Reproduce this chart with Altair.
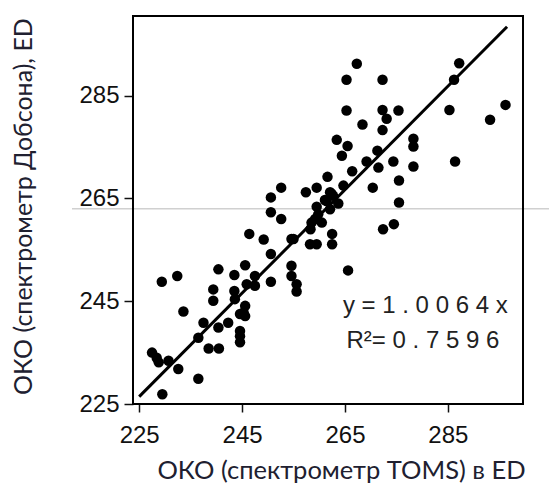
import altair as alt
import pandas as pd

# Scatter values (TOMS, Dobson)
toms = [267.3, 265.3, 272.3, 287.2, 286.2, 265.3, 272.3, 275.4, 273.1, 268.4, 272.3,
        285.3, 293.2, 296.2, 263.4, 265.5, 278.3, 278.3, 264.4, 271.3, 269.2, 274.4,
        286.4, 271.5, 278.3, 266.4, 261.6, 275.5, 270.4, 264.7, 259.5, 257.4, 275.5,
        262.1, 262.7, 261.4, 263.7, 259.5, 262.1, 259.8, 258.5, 260.5, 272.4, 274.5,
        258.2, 259.5, 262.5, 262.5, 252.6, 250.6, 250.6, 252.6, 246.4, 249.2, 254.6,
        250.6, 265.6, 254.6, 254.6, 255.6, 255.6, 250.6, 247.5, 247.5, 245.6, 243.5,
        245.9, 240.4, 239.4, 239.4, 243.5, 243.6, 245.6, 245.3, 244.6, 245.6, 237.5,
        240.4, 242.3, 244.6, 244.6, 244.6, 236.5, 238.5, 240.5, 229.4, 232.4, 233.6,
        227.5, 228.4, 228.8, 230.7, 232.6, 236.5, 229.5, 255.0, 259.2, 258.3, 261.1,
        262.4]
dobson = [291.2, 288.1, 288.1, 291.3, 288.1, 282.1, 282.2, 282.1, 280.5, 279.4, 278.3,
          282.2, 280.3, 283.2, 276.4, 275.2, 276.6, 275.1, 273.3, 274.3, 272.2, 272.2,
          272.2, 271.0, 271.2, 270.3, 269.2, 268.5, 267.1, 267.5, 267.1, 266.2, 264.2,
          266.2, 265.5, 264.5, 264.0, 263.4, 262.9, 261.9, 260.3, 260.3, 259.0, 260.0,
          256.1, 256.1, 258.1, 256.1, 267.1, 265.2, 262.3, 261.0, 258.1, 257.0, 257.1,
          254.2, 251.0, 251.9, 249.9, 248.3, 246.9, 248.8, 249.9, 248.0, 252.0, 250.1,
          248.3, 251.2, 247.3, 245.1, 247.0, 245.4, 244.1, 242.8, 242.5, 242.1, 240.8,
          239.9, 240.8, 239.2, 238.2, 237.0, 237.9, 235.8, 235.8, 248.8, 249.9, 243.0,
          235.0, 234.0, 233.1, 233.4, 231.8, 229.9, 226.9, 257.1, 261.0, 259.0, 264.7,
          265.9]

slope = 1.0064
line_x = [225.0, 296.5]
ticks = [225, 245, 265, 285]
eq_lines = ["y = 1 . 0 0 6 4 x", "R²= 0 . 7 5 9 6"]
eq_x = [264.6, 265.3]
eq_y = [242.7, 235.9]

pts = pd.DataFrame({"toms": toms, "dobson": dobson})
ln = pd.DataFrame({"toms": line_x, "dobson": [slope * v for v in line_x]})
eq = pd.DataFrame({"t": eq_lines, "toms": eq_x, "dobson": eq_y})

tick_font = "Liberation Sans Narrow, Arial Narrow, Liberation Sans, Arial"
title_font = "Lato, Open Sans, sans-serif"

W, H = 390, 388
xs = alt.Scale(domain=[223.8, 299.6], nice=False, zero=False)
ys = alt.Scale(domain=[225, 300.5], nice=False, zero=False)

xaxis = alt.Axis(values=ticks, title="ОКО (спектрометр TOMS) в ED", grid=False,
                 domain=False, tickColor="#111", tickSize=8, tickWidth=1.5,
                 labelFont=tick_font, labelFontSize=24, labelColor="#111",
                 labelPadding=11, titleFont=title_font, titleFontSize=25.5,
                 titleFontWeight="normal", titleColor="#202030",
                 titleX=208, titleY=66, titleBaseline="middle", titleAnchor="middle")
yaxis = alt.Axis(values=ticks, title="ОКО (спектрометр Добсона), ED", grid=False,
                 domain=False, tickColor="#111", tickSize=9, tickWidth=1.5,
                 labelFont=tick_font, labelFontSize=24, labelColor="#111",
                 labelPadding=5, titleFont=title_font, titleFontSize=25,
                 titleFontWeight="normal", titleColor="#202030",
                 titleX=-110, titleY=190, titleAngle=-90, titleBaseline="middle",
                 titleAlign="center")

points = alt.Chart(pts).mark_circle(size=110, color="black", opacity=1).encode(
    x=alt.X("toms:Q", scale=xs, axis=xaxis),
    y=alt.Y("dobson:Q", scale=ys, axis=yaxis),
)
line = alt.Chart(ln).mark_line(color="black", strokeWidth=3).encode(
    x=alt.X("toms:Q", scale=xs), y=alt.Y("dobson:Q", scale=ys)
)
text = alt.Chart(eq).mark_text(align="left", baseline="alphabetic", fontSize=24,
                               font="Liberation Sans, Arial", color="#222").encode(
    x=alt.X("toms:Q", scale=xs), y=alt.Y("dobson:Q", scale=ys), text="t:N"
)
gray = alt.Chart(pd.DataFrame({"v": [263.0]})).mark_rule(
    color="#d0d0d0", strokeWidth=1.5, clip=False).encode(
    y=alt.Y("v:Q", scale=ys), x=alt.value(-61), x2=alt.value(416)
)
frame = alt.Chart(pd.DataFrame({"k": [0]})).mark_rect(
    fillOpacity=0, stroke="black", strokeWidth=2).encode(
    x=alt.value(0), x2=alt.value(W), y=alt.value(0), y2=alt.value(H)
)

chart = alt.layer(gray, line, points, text, frame).properties(
    width=W, height=H,
    autosize=alt.AutoSizeParams(type="none"),
    padding={"left": 125, "top": 8, "right": 26, "bottom": 80},
    background="white",
).configure_view(stroke=None)

chart.save("out.html", embed_options={"renderer": "svg", "actions": False})
